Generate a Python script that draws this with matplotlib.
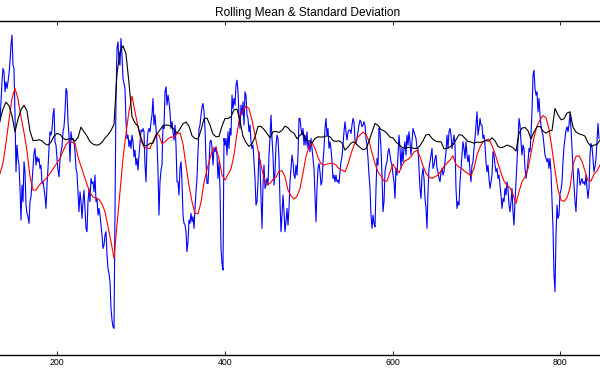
import matplotlib
matplotlib.use('Agg')

import numpy as np
import matplotlib.pyplot as plt

plt.rcParams['font.family'] = ['Liberation Sans', 'DejaVu Sans']

# series sampled on a regular grid, first sample at x_start
x_start = 131.6
x_end = 847.3

original = [
    700, 760, 820, 860, 850, 790, 820, 800, 820, 845, 880, 930, 960, 870, 860, 720, 550, 630, 590, 570,
    500, 405, 510, 460, 580, 550, 450, 425, 415, 395, 460, 475, 520, 570, 605, 620, 570, 595, 580, 590,
    560, 570, 515, 520, 500, 475, 440, 510, 560, 620, 670, 660, 675, 720, 740, 640, 630, 590, 555, 535,
    585, 610, 625, 670, 685, 730, 800, 790, 700, 660, 580, 670, 645, 650, 640,
    610, 560, 545, 490, 430, 490, 460, 410, 460, 495, 440, 380, 370, 460, 500, 460, 530, 515, 520, 490,
    540, 460, 470, 420, 440, 420, 390, 360, 320, 330, 360, 370, 300, 260, 245, 220, 140, 105, 85, 80,
    420, 775, 920, 940, 880, 870, 950, 900, 830, 815, 800, 700, 650, 660, 625, 645, 620, 660, 640, 595,
    615, 570, 590, 555, 600, 635, 675, 670, 680, 670, 570, 520, 630, 670, 680,
    670, 700, 720, 770, 690, 720, 680, 640, 550, 420, 520, 555, 570, 690, 680, 790, 805, 750, 780, 760,
    730, 680, 700, 670, 645, 690, 630, 520, 520, 480, 560, 580, 520, 420, 395, 392, 370, 310, 340, 405,
    395, 425, 400, 415, 380, 440, 490, 530, 610, 680, 690, 720, 745, 755, 730, 680, 580, 515, 515, 570,
    640, 645, 625, 570, 620, 610, 625, 600, 530, 580, 500, 320, 275, 255, 650,
    630, 650, 600, 670, 620, 680, 660, 780, 740, 770, 750, 810, 825, 790, 720, 680, 750, 720, 760, 690,
    790, 780, 720, 710, 670, 690, 640, 620, 630, 580, 530, 450, 460, 520, 610, 570, 470, 380, 510, 570,
    500, 510, 530, 510, 600, 650, 720, 650, 600, 510, 550, 630, 660, 650, 590, 460, 370, 420, 480, 430,
    370, 400, 440, 390, 440, 520, 560, 600, 580, 540, 530, 570, 540, 600, 710,
    710, 680, 660, 680, 630, 660, 630, 670, 620, 640, 610, 650, 620, 590, 560, 480, 400, 500, 560, 575,
    550, 510, 520, 580, 620, 680, 710, 660, 680, 620, 640, 620, 580, 530, 540, 520, 540, 520, 525, 515,
    550, 580, 595, 630, 670, 700, 670, 645, 670, 675, 675, 665, 690, 710, 700, 645, 635, 650, 670, 690,
    705, 700, 685, 690, 700, 690, 650, 630, 590, 540, 500, 420, 380, 420, 395,
    385, 500, 590, 570, 680, 670, 620, 540, 430, 460, 550, 570, 580, 610, 620, 600, 580, 570, 540, 520,
    470, 560, 540, 600, 660, 620, 560, 620, 580, 620, 640, 600, 660, 630, 670, 640, 600, 640, 680, 670,
    660, 650, 620, 620, 560, 500, 470, 540, 560, 530, 470, 440, 380, 490, 560, 580, 600, 620, 560, 570,
    590, 600, 560, 550, 530, 520, 550, 560, 540, 550, 580, 610, 660, 620, 670,
    680, 660, 620, 640, 660, 630, 500, 440, 460, 450, 520, 560, 600, 640, 620, 590, 640, 600, 580, 600,
    550, 520, 570, 580, 620, 650, 690, 730, 660, 680, 710, 690, 690, 650, 660, 630, 580, 550, 570, 530,
    500, 520, 540, 610, 600, 570, 550, 560, 530, 540, 510, 480, 440, 470, 460, 500, 480, 520, 500, 450,
    430, 460, 500, 430, 390, 460, 520, 580, 640, 710, 690, 640, 600, 630, 620,
    560, 530, 550, 580, 620, 610, 660, 730, 840, 855, 800, 780, 790, 730, 770, 720, 690, 670, 660, 630,
    600, 590, 580, 590, 560, 590, 550, 460, 380, 240, 190, 360, 450, 410, 420, 485, 495, 520, 580, 625,
    650, 675, 685, 670, 690, 725, 680, 620, 560, 510, 460, 430, 500, 560, 550, 510, 520, 530, 515, 520,
    510, 540, 500, 470, 500, 600, 635, 625, 590, 550, 565, 590, 640, 695, 650,
]

rolling_mean = [
    545, 576, 636, 706, 770, 800, 768, 715, 668, 612, 536, 495, 495, 509, 519, 526, 537, 549, 563, 577,
    590, 612, 631, 642, 639,
    635, 595, 566, 539, 512, 488, 474, 471, 467, 453, 430, 385, 340, 290, 390, 490, 590, 664, 732, 777,
    730, 685, 644, 624, 620,
    620, 642, 662, 660, 634, 640, 649, 654, 654, 664, 667, 633, 569, 509, 460, 425, 424, 458, 518, 557,
    590, 621, 622, 589, 540,
    525, 542, 559, 600, 665, 720, 733, 747, 740, 705, 660, 615, 570, 532, 511, 515, 527, 534, 551, 553,
    535, 495, 478, 468, 476,
    500, 546, 596, 624, 638, 620, 593, 574, 570, 573, 575, 575, 570, 559, 555, 550, 573, 604, 630, 651,
    660, 669, 662, 642, 607,
    575, 549, 537, 522, 522, 549, 573, 558, 547, 569, 583, 587, 595, 609, 615, 595, 568, 545, 534, 530,
    535, 540, 552, 566, 576,
    585, 598, 572, 564, 559, 550, 545, 537, 560, 600, 624, 640, 645, 648, 628, 605, 576, 546, 522, 509,
    502, 482, 455, 490, 520,
    535, 559, 606, 653, 687, 705, 719, 712, 678, 619, 554, 496, 465, 461, 472, 502, 571, 596, 598, 581,
    552, 523, 522, 543, 552, 570,
]

rolling_std = [
    705, 738, 759, 748, 718, 670, 708, 736, 750, 732, 672, 644, 644, 646, 643, 634, 630, 639, 657, 665,
    662, 651, 646, 649, 649,
    642, 653, 684, 670, 657, 640, 633, 630, 631, 639, 651, 661, 674, 692, 845, 910, 928, 904, 816, 716,
    696, 687, 652, 627, 629,
    635, 636, 659, 672, 684, 690, 690, 687, 677, 666, 679, 694, 699, 687, 658, 650, 648, 675, 709, 711,
    690, 663, 655, 656, 687,
    710, 710, 715, 736, 738, 702, 656, 638, 626, 634, 654, 686, 686, 677, 665, 652, 670, 671, 668, 674,
    687, 682, 671, 666, 649,
    660, 667, 645, 643, 637, 650, 655, 654, 655, 658, 655, 644, 641, 643, 637, 615, 624, 636, 640, 631,
    623, 616, 619, 642, 668,
    695, 689, 677, 673, 665, 654, 652, 639, 632, 623, 620, 623, 623, 620, 620, 628, 643, 661, 662, 650,
    643, 640, 640, 619, 620,
    625, 631, 646, 661, 660, 650, 641, 639, 636, 639, 638, 640, 644, 642, 652, 643, 626, 622, 625, 630,
    627, 622, 612, 665, 681,
    683, 673, 649, 669, 685, 686, 672, 666, 672, 674, 740, 721, 706, 709, 726, 730, 684, 669, 664, 661,
    657, 637, 626, 630, 632, 645,
]

x_ticks = [200, 400, 600, 800]

t_orig = np.linspace(x_start, x_end, len(original) + 1)[:-1]
t_roll = np.linspace(x_start, x_end, len(rolling_mean))

fig = plt.figure(figsize=(6, 3.75), dpi=100)
ax = fig.add_axes([0, 20 / 375, 1, 334.5 / 375])

ax.plot(t_orig, original, color='blue', lw=0.8, label='Original')
ax.plot(t_roll, rolling_mean, color='red', lw=0.8, label='Rolling Mean')
ax.plot(t_roll, rolling_std, color='black', lw=0.8, label='Rolling Std')

ax.set_xlim(x_start, x_end)
ax.set_ylim(0, 1004)
ax.set_xticks(x_ticks)
ax.set_yticks([])
ax.tick_params(axis='x', direction='in', top=True, length=3, width=0.6,
               labelsize=6.3, pad=2.5)
for side in ['left', 'right']:
    ax.spines[side].set_visible(False)
for side in ['top', 'bottom']:
    ax.spines[side].set_linewidth(1.0)

# the original axes extended past the crop, so its title sits a little right of centre
ax.set_title('Rolling Mean & Standard Deviation', fontsize=8.6, pad=3)
ax.title.set_x(0.513)

plt.savefig('out.png', dpi=100)
